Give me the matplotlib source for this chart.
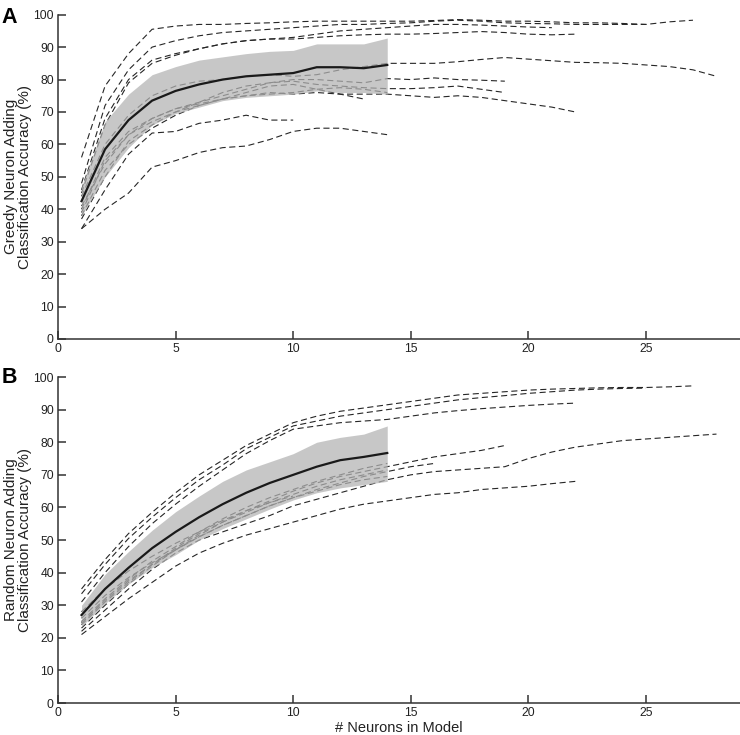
import numpy as np
import matplotlib
matplotlib.use("Agg")
import matplotlib.pyplot as plt

plt.rcParams['font.family'] = ['Liberation Sans', 'DejaVu Sans']

# panel A: greedy neuron adding, one run per list, x starts at 1
greedy_runs = [
    [56, 78, 88, 95.5, 96.5, 97, 97, 97.3, 97.5, 97.8, 98, 98, 98, 98, 98, 98.2, 98.5, 98.3, 98, 98, 97.8, 97.5, 97.5, 97.3, 97, 97.8, 98.3],
    [48, 72, 83, 90, 92, 93.5, 94.5, 95, 95.5, 96, 96.5, 97, 97, 97.3, 97.5, 98, 98.3, 98, 97.5, 97.3, 97.2, 97, 97, 97, 97],
    [46, 68, 80, 86, 88, 89.5, 91, 92, 92.5, 93, 94, 95, 95.5, 96, 96.5, 97, 97, 96.8, 96.5, 96.2, 96],
    [45, 66, 79, 85, 87.5, 89.5, 91, 92, 92.5, 92.5, 93, 93.5, 93.8, 94, 94, 94.2, 94.5, 94.8, 94.5, 94, 93.8, 94],
    [44, 60, 69, 75, 78, 79.5, 80, 81, 81.5, 81, 81.5, 83, 84, 85, 85, 85, 85.5, 86.2, 86.8, 86.3, 85.8, 85.3, 85.2, 85, 84.5, 84, 83, 81],
    [40, 56, 64, 68, 71, 73, 75, 77, 79, 80, 80, 79.5, 79, 80.3, 80, 80.5, 80, 79.8, 79.5],
    [41, 54, 63, 67, 70, 73, 76, 78, 79, 79.5, 78.5, 78, 77.5, 77.2, 77.2, 77.5, 78, 77, 76],
    [39, 55, 63, 68, 71, 72.5, 74, 75, 76, 75.5, 76, 75.5, 75.5, 75.5, 75, 74.5, 75, 74.5, 73.5, 72.5, 71.5, 70],
    [38, 52, 60, 65, 69, 72, 74, 76, 78, 78.5, 77, 75.5, 74],
    [37, 50, 61, 66, 70, 72, 74, 75, 75.5, 76, 77, 77.5, 77, 76],
    [34, 46, 57, 63.5, 64, 66.5, 67.5, 69, 67.5, 67.5],
    [34, 40, 45, 53, 55, 57.5, 59, 59.5, 61.5, 64, 65, 65, 64, 63],
]
greedy_mean = [42.5, 58.5, 67.5, 73.5, 76.5, 78.5, 80, 81, 81.5, 82, 83.8, 83.8, 83.5, 84.5]
greedy_upper = [47, 67, 75.5, 81.5, 84, 86, 87, 88, 88.7, 89, 91, 91, 91, 92.8]
greedy_lower = [38, 50, 59, 66, 69.5, 71.5, 73.5, 74.5, 75, 75.5, 76.5, 76, 76, 75.5]

# panel B: random neuron adding
random_runs = [
    [35, 44, 52, 58.5, 64.5, 70, 74.5, 79, 82.5, 86, 88, 89.5, 90.5, 91.5, 92.5, 93.5, 94.5, 95, 95.5, 96, 96.3, 96.5, 96.7, 96.8, 96.8, 97, 97.3],
    [33.5, 42.5, 50.5, 57, 63, 68.5, 73, 78, 81.5, 85, 86.5, 88, 89, 90, 91, 92, 93, 93.7, 94.3, 95, 95.5, 96, 96.3, 96.5, 96.6],
    [31, 40, 48, 55, 61, 66.5, 71.5, 76.5, 80.5, 84, 85, 86, 86.5, 87, 88, 89, 89.7, 90.3, 90.8, 91.3, 91.7, 92],
    [22, 28.5, 35, 41, 46, 50, 52.5, 55, 57.5, 60.5, 62.5, 64.5, 66.5, 68.5, 70, 71, 71.5, 72, 72.5, 75, 77, 78.5, 79.5, 80.5, 81, 81.5, 82, 82.5],
    [23, 30, 36.5, 42, 47, 51.5, 55.5, 59, 62, 65, 67.5, 69.5, 71, 72.5, 74, 75.5, 76.5, 77.5, 79],
    [24.5, 31.5, 37.5, 42.5, 47, 51, 54.5, 57.5, 60.5, 63, 65.5, 67.5, 69.5, 71, 72.5, 73.5],
    [21, 26.5, 32, 37, 42, 46, 49, 51.5, 53.5, 55.5, 57.5, 59.5, 61, 62, 63, 64, 64.5, 65.5, 66, 66.5, 67.3, 68],
    [25, 32, 38, 43.5, 48, 52.5, 56.5, 60, 63, 65.5, 68, 70, 72, 73.5],
    [24, 31, 37, 42.5, 47.5, 52, 55.5, 58.5, 61.5, 64, 66.5, 68.5, 70, 71.5],
    [26, 33, 38.5, 43, 47, 51, 54.5, 57.5, 60.5, 63, 65, 67, 68.5, 69.5],
    [28, 35, 40.5, 45, 49, 52.5, 56, 59, 61.5, 63.5],
]
random_mean = [27, 35, 41.5, 47.5, 52.5, 57, 61, 64.5, 67.5, 70, 72.5, 74.5, 75.5, 76.7]
random_upper = [30, 39.5, 46.5, 53, 58.7, 63.5, 68, 71.5, 74, 76.5, 80, 81.5, 82.5, 85]
random_lower = [23.5, 30.5, 36.5, 41.5, 45.5, 50, 53.5, 56.5, 59.5, 62.3, 64.5, 66, 67, 68]

ylabels = ['Greedy Neuron Adding\nClassification Accuracy (%)',
           'Random Neuron Adding\nClassification Accuracy (%)']

fig = plt.figure(figsize=(7.4, 7.35), dpi=100)
ax_a = fig.add_axes([0.0784, 0.5388, 0.9216, 0.4412])
ax_b = fig.add_axes([0.0784, 0.0435, 0.9216, 0.4435])

panels = [
    (ax_a, greedy_runs, greedy_mean, greedy_upper, greedy_lower),
    (ax_b, random_runs, random_mean, random_upper, random_lower),
]

for i, (ax, runs, mean, upper, lower) in enumerate(panels):
    for run in runs:
        x = np.arange(1, len(run) + 1)
        ax.plot(x, run, color='#262626', lw=0.8, linestyle=(0, (5.5, 3.2)), zorder=1)
    xm = np.arange(1, len(mean) + 1)
    ax.fill_between(xm, lower, upper, color='#b3b3b3', alpha=0.73, lw=0, zorder=2)
    ax.plot(xm, mean, color='#1a1a1a', lw=1.6, zorder=3)

    ax.set_xlim(0, 29)
    ax.set_ylim(0, 100)
    ax.set_xticks([0, 5, 10, 15, 20, 25])
    ax.set_yticks(np.arange(0, 101, 10))
    for side in ['top', 'right']:
        ax.spines[side].set_visible(False)
    for side in ['left', 'bottom']:
        ax.spines[side].set_color('#333333')
        ax.spines[side].set_linewidth(1.1)
    ax.tick_params(direction='in', length=5.8, width=1.1, color='#333333',
                   labelsize=8.7, labelcolor='#222222', pad=3)
    ax.set_ylabel(ylabels[i], fontsize=11, color='#222222', labelpad=1, linespacing=1.0)

ax_b.set_xlabel('# Neurons in Model', fontsize=10.5, color='#222222', labelpad=1)

fig.text(0.002, 0.991, 'A', fontsize=15.5, fontweight='bold', va='top', ha='left')
fig.text(0.002, 0.501, 'B', fontsize=15.5, fontweight='bold', va='top', ha='left')

fig.savefig('out.png', dpi=100)
